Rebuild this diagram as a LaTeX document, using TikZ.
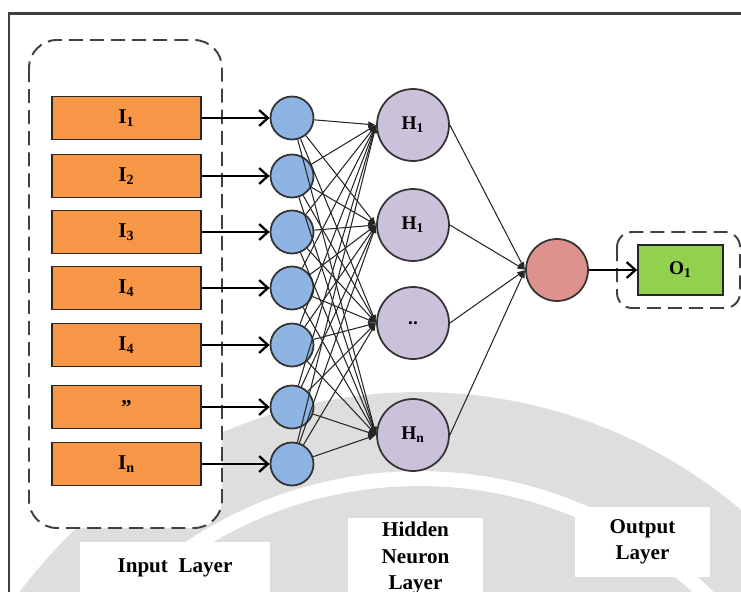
\documentclass[tikz,border=0pt]{standalone}
\usepackage{fontspec}
\setmainfont{Liberation Serif}
\usetikzlibrary{positioning,arrows.meta}

\definecolor{inorange}{RGB}{247,150,70}
\definecolor{inblue}{RGB}{141,180,226}
\definecolor{hidlilac}{RGB}{204,193,218}
\definecolor{outrose}{RGB}{222,146,142}
\definecolor{outgreen}{RGB}{146,208,80}
\definecolor{wmgray}{RGB}{222,222,222}

\begin{document}
\begin{tikzpicture}[
    x=0.02cm, y=-0.02cm,
    every node/.style={font=\bfseries},
    inbox/.style={draw=black!85, line width=1pt, fill=inorange, minimum width=2.98cm,
        minimum height=0.86cm, inner sep=0pt, font=\bfseries\fontsize{12}{14}\selectfont},
    inneuron/.style={circle, draw=black!80, line width=1pt, fill=inblue, minimum size=0.86cm, inner sep=0pt},
    hidneuron/.style={circle, draw=black!80, line width=1pt, fill=hidlilac, minimum size=1.44cm,
        inner sep=0pt, font=\bfseries\fontsize{11}{13}\selectfont},
    outneuron/.style={circle, draw=black!80, line width=1pt, fill=outrose, minimum size=1.24cm, inner sep=0pt},
    outbox/.style={draw=black!85, line width=1pt, fill=outgreen, minimum width=1.7cm,
        minimum height=1cm, inner sep=0pt, font=\bfseries\fontsize{11}{13}\selectfont},
    feed/.style={line width=1.1pt, -{Straight Barb[length=5pt,width=9pt,line width=1.3pt]}},
    link/.style={line width=0.6pt, black!85, -{Latex[length=4.5pt,width=3.5pt]}},
    group/.style={draw=black!75, dash pattern=on 8pt off 4pt, line width=1.1pt, fill=white},
    caption/.style={fill=white, align=center, inner sep=0pt, font=\bfseries\fontsize{12}{15}\selectfont}
]
\useasboundingbox (0,0) rectangle (741,592);

% Watermark in the background
\begin{scope}
\clip (0,0) rectangle (741,592);
\fill[wmgray, even odd rule] (419,891) circle[radius=9.98cm] (419,891) circle[radius=8.4cm];
\fill[wmgray, even odd rule] (419,891) circle[radius=8.1cm] (419,891) circle[radius=6cm];
\end{scope}

% Frame
\draw[black!75, line width=0.06cm] (9,592) -- (9,13) -- (741,13);

% === Input layer ===
\draw[group, rounded corners=0.56cm] (29,40) rectangle (222,528);
\foreach \y/\lab [count=\i] in {118/{I\textsubscript{1}}, 176/{I\textsubscript{2}}, 232/{I\textsubscript{3}},
    288/{I\textsubscript{4}}, 345/{I\textsubscript{4}}, 407/{''}, 464/{I\textsubscript{n}}} {
    \node[inbox] (in\i) at (126.5,\y) {\lab};
    \node[inneuron] (x\i) at (292,\y) {};
    \draw[feed] (in\i) -- (x\i);
}

% === Hidden layer ===
\foreach \y/\lab [count=\j] in {125/{H\textsubscript{1}}, 225/{H\textsubscript{1}}, 323/{..}, 435/{H\textsubscript{n}}} {
    \node[hidneuron] (h\j) at (413,\y) {\lab};
}
\foreach \i in {1,...,7} {
    \foreach \j in {1,...,4} {
        \draw[link] (x\i) -- (h\j.west);
    }
}

% === Output layer ===
\node[outneuron] (out) at (557,270) {};
\foreach \j in {1,...,4} {
    \draw[link] (h\j.east) -- (out.west);
}
\draw[group, rounded corners=0.3cm] (617,232) rectangle (740,308);
\node[outbox] (o1) at (680.5,270) {O\textsubscript{1}};
\draw[feed] (out) -- (o1);

% Layer captions
\node[caption, minimum width=3.8cm, minimum height=1.06cm] (capin) at (175,568) {Input\ \ Layer};
\node[caption, minimum width=2.7cm, minimum height=1.6cm] (caphid) at (415.5,558) {Hidden\\Neuron\\Layer};
\node[caption, minimum width=2.7cm, minimum height=1.4cm] (capout) at (642.5,542) {Output\\Layer};

\end{tikzpicture}
\end{document}
